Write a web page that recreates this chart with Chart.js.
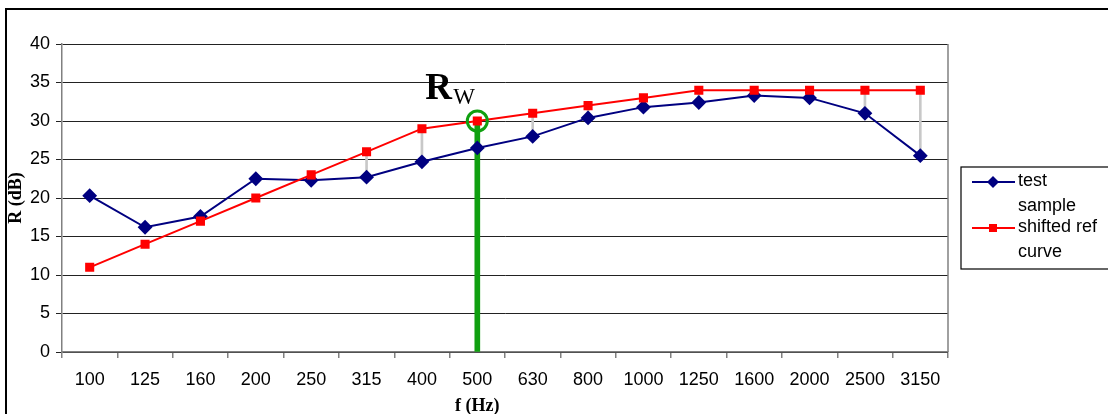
<!DOCTYPE html>
<html>
<head>
<meta charset="utf-8">
<script src="https://cdn.jsdelivr.net/npm/chart.js@4.4.1/dist/chart.umd.min.js"></script>
<style>
  html, body { margin: 0; padding: 0; background: #fff; }
  #wrap { width: 1108px; height: 414px; position: relative; }
</style>
</head>
<body>
<div id="wrap"><canvas id="myChart" width="1108" height="414"></canvas></div>
<script>
// frequencies (Hz) and measured / reference values (dB)
var freqs = ['100', '125', '160', '200', '250', '315', '400', '500', '630', '800', '1000', '1250', '1600', '2000', '2500', '3150'];
var testSample = [20.3, 16.2, 17.6, 22.5, 22.3, 22.7, 24.7, 26.5, 28.0, 30.4, 31.8, 32.4, 33.3, 33.0, 31.0, 25.5];
var shiftedRef = [11, 14, 17, 20, 23, 26, 29, 30, 31, 32, 33, 34, 34, 34, 34, 34];
var yTicks = [0, 5, 10, 15, 20, 25, 30, 35, 40];
var rwFreq = '500';
var rwValue = 30;

var rwIndex = freqs.indexOf(rwFreq);

// grey lines where the sample falls under the reference curve
var deficiency = testSample.map(function (v, i) {
    return v < shiftedRef[i] ? [v, shiftedRef[i]] : null;
});
var rwBar = freqs.map(function (f, i) { return i === rwIndex ? [0, rwValue] : null; });
var rwPoint = freqs.map(function (f, i) { return i === rwIndex ? rwValue : null; });

var extras = {
    id: 'extras',
    beforeDraw: function (chart) {
        var c = chart.ctx;
        c.save();
        c.fillStyle = '#fff';
        c.fillRect(0, 0, chart.width, chart.height);
        c.restore();
    },
    afterDatasetsDraw: function (chart) {
        var c = chart.ctx;
        var x = chart.scales.x, y = chart.scales.y;
        var area = chart.chartArea;
        c.save();
        // right border of plot
        c.strokeStyle = '#808080';
        c.lineWidth = 1.5;
        c.beginPath();
        c.moveTo(area.right, area.top);
        c.lineTo(area.right, area.bottom);
        c.stroke();

        // R_W label
        var px = x.getPixelForValue(rwIndex);
        var py = y.getPixelForValue(rwValue);
        c.fillStyle = '#000';
        c.textBaseline = 'alphabetic';
        c.textAlign = 'left';
        c.font = 'bold 37px "Liberation Serif", serif';
        c.fillText('R', px - 52, py - 22);
        c.font = '23px "Liberation Serif", serif';
        c.fillText('W', px - 24, py - 17);

        // x axis title
        c.font = 'bold 18px "Liberation Serif", serif';
        c.textAlign = 'center';
        c.fillText('f (Hz)', px, 411);

        // outer frame
        c.strokeStyle = '#000';
        c.lineWidth = 2;
        c.beginPath();
        c.moveTo(6, chart.height);
        c.lineTo(6, 9);
        c.lineTo(chart.width, 9);
        c.stroke();

        // legend box
        var lx = 961, ly = 167;
        c.lineWidth = 1.2;
        c.fillStyle = '#fff';
        c.fillRect(lx, ly, chart.width - lx + 5, 102);
        c.strokeRect(lx, ly, chart.width - lx + 5, 102);
        var items = [
            { ds: chart.data.datasets[0], y: ly + 15, lines: ['test', 'sample'] },
            { ds: chart.data.datasets[1], y: ly + 61, lines: ['shifted ref', 'curve'] }
        ];
        items.forEach(function (it) {
            c.strokeStyle = it.ds.borderColor;
            c.lineWidth = 2;
            c.beginPath();
            c.moveTo(lx + 11, it.y);
            c.lineTo(lx + 54, it.y);
            c.stroke();
            c.fillStyle = it.ds.pointBackgroundColor;
            if (it.ds.pointStyle === 'rectRot') {
                c.beginPath();
                c.moveTo(lx + 32, it.y - 6);
                c.lineTo(lx + 38, it.y);
                c.lineTo(lx + 32, it.y + 6);
                c.lineTo(lx + 26, it.y);
                c.closePath();
                c.fill();
            } else {
                c.fillRect(lx + 28, it.y - 4, 8, 8);
            }
            c.fillStyle = '#000';
            c.font = '18px "Liberation Sans", Arial, sans-serif';
            c.textAlign = 'left';
            c.textBaseline = 'middle';
            c.fillText(it.lines[0], lx + 57, it.y - 1);
            c.fillText(it.lines[1], lx + 57, it.y + 24);
        });
        c.restore();
    }
};

var ctx = document.getElementById('myChart');
var myChart = new Chart(ctx, {
    type: 'line',
    data: {
        labels: freqs,
        datasets: [{
            label: 'test sample',
            data: testSample,
            borderColor: '#000080',
            backgroundColor: '#000080',
            pointBackgroundColor: '#000080',
            pointBorderColor: '#000080',
            pointStyle: 'rectRot',
            pointRadius: 6,
            borderWidth: 2,
            tension: 0,
            order: 1
        }, {
            label: 'shifted ref curve',
            data: shiftedRef,
            borderColor: '#ff0000',
            backgroundColor: '#ff0000',
            pointBackgroundColor: '#ff0000',
            pointBorderColor: '#ff0000',
            pointStyle: 'rect',
            pointRadius: 5,
            borderWidth: 2,
            tension: 0,
            order: 0
        }, {
            type: 'bar',
            label: 'deficiency',
            data: deficiency,
            backgroundColor: '#c8c8c8',
            barThickness: 2,
            grouped: false,
            order: 3
        }, {
            type: 'bar',
            label: 'Rw line',
            data: rwBar,
            backgroundColor: '#10a010',
            barThickness: 5,
            grouped: false,
            order: 2
        }, {
            label: 'Rw point',
            data: rwPoint,
            showLine: false,
            pointStyle: 'circle',
            pointRadius: 10,
            pointBorderWidth: 3,
            pointBackgroundColor: 'rgba(0,0,0,0)',
            pointBorderColor: '#10a010',
            order: -1
        }]
    },
    options: {
        responsive: false,
        animation: false,
        layout: { padding: { top: 44, right: 160, left: 0, bottom: 0 } },
        plugins: {
            legend: { display: false },
            tooltip: { enabled: false }
        },
        scales: {
            x: {
                offset: true,
                grid: { drawOnChartArea: false, offset: true, tickLength: 6, color: '#808080', lineWidth: 1.5 },
                border: { color: '#808080', width: 1.5 },
                ticks: { color: '#000', font: { family: '"Liberation Sans", Arial, sans-serif', size: 18 }, padding: 11, maxRotation: 0, autoSkip: false },
                afterFit: function (scale) { scale.height = 62; }
            },
            y: {
                min: 0,
                max: 40,
                afterBuildTicks: function (scale) {
                    scale.ticks = yTicks.map(function (v) { return { value: v }; });
                },
                grid: { color: '#222', lineWidth: 1, tickLength: 6, drawTicks: true },
                border: { color: '#808080', width: 1.5 },
                ticks: { color: '#000', font: { family: '"Liberation Sans", Arial, sans-serif', size: 18 }, padding: 6 },
                title: {
                    display: true,
                    text: 'R (dB)',
                    color: '#000',
                    font: { family: '"Liberation Serif", serif', size: 18, weight: 'bold' },
                    padding: { top: 6, bottom: 0 }
                },
                afterFit: function (scale) { scale.width = 62; }
            }
        }
    },
    plugins: [extras]
});
</script>
</body>
</html>
